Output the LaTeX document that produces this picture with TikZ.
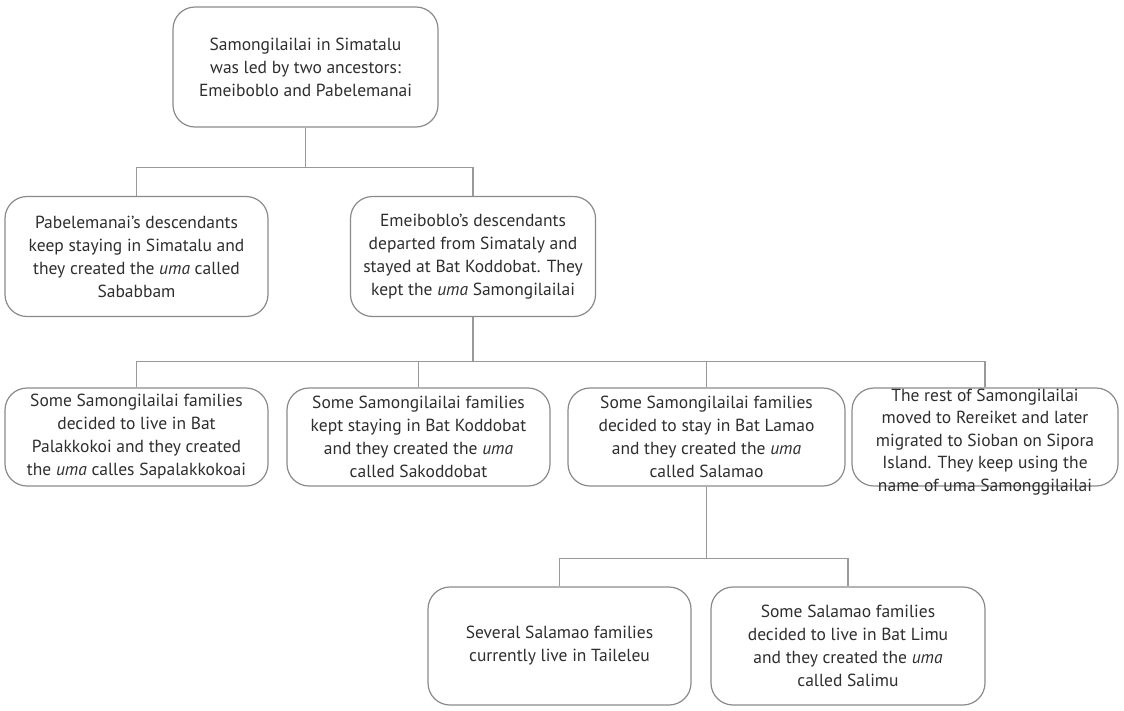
\documentclass[tikz,border=0pt]{standalone}
\usepackage{fontspec}
\setmainfont{PT Sans}
\definecolor{boxline}{HTML}{8A8A8A}
\definecolor{conn}{HTML}{999999}
\definecolor{txt}{HTML}{2E2E2E}
\begin{document}
\begin{tikzpicture}[x=1pt,y=-1pt,
  box/.style={draw=boxline, line width=1.2pt, rounded corners=22pt, align=center,
    text=txt, font=\fontsize{17.5}{23}\selectfont, inner sep=0pt},
  link/.style={draw=conn, line width=1.1pt}]
\useasboundingbox (0,0) rectangle (1124,710);
\node[box, minimum width=265pt, minimum height=120pt] (top) at (305.5,67)
  {Samongilailai in Simatalu\\was led by two ancestors:\\Emeiboblo and Pabelemanai};
\node[box, minimum width=263pt, minimum height=120pt] (a) at (136.5,256.5)
  {Pabelemanai’s descendants\\keep staying in Simatalu and\\they created the \textit{uma} called\\Sababbam};
\node[box, minimum width=245pt, minimum height=120pt] (b) at (473,256.5)
  {Emeiboblo’s descendants\\departed from Simataly and\\stayed at Bat Koddobat. They\\kept the \textit{uma} Samongilailai};
\node[box, minimum width=263pt, minimum height=98pt] (c) at (136.5,437)
  {Some Samongilailai families\\decided to live in Bat\\Palakkokoi and they created\\the \textit{uma} calles Sapalakkokoai};
\node[box, minimum width=263pt, minimum height=98pt] (d) at (418.5,437)
  {Some Samongilailai families\\kept staying in Bat Koddobat\\and they created the \textit{uma}\\called Sakoddobat};
\node[box, minimum width=277pt, minimum height=98pt] (e) at (706.5,437)
  {Some Samongilailai families\\decided to stay in Bat Lamao\\and they created the \textit{uma}\\called Salamao};
\node[box, minimum width=266pt, minimum height=98pt] (f) at (985,437) {};
\node[align=center, text=txt, font=\fontsize{17.5}{22.5}\selectfont, inner sep=0pt] (ft) at (985,442)
  {The rest of Samongilailai\\moved to Rereiket and later\\migrated to Sioban on Sipora\\Island. They keep using the\\name of uma Samonggilailai};
\node[box, minimum width=263pt, minimum height=118pt] (g) at (559.5,646)
  {Several Salamao families\\currently live in Taileleu};
\node[box, minimum width=274pt, minimum height=118pt] (h) at (848,646)
  {Some Salamao families\\decided to live in Bat Limu\\and they created the \textit{uma}\\called Salimu};
\path[link] (top.south) -- ++(0,40) coordinate (j1);
\path[link] (a.north) |- (j1) -| (b.north);
\path[link] (b.south) -- ++(0,44) coordinate (j2);
\path[link] (c.north) |- (j2) -| (f.north);
\path[link] (d.north) -- (d.north |- j2);
\path[link] (e.north) -- (e.north |- j2);
\path[link] (e.south) -- ++(0,72) coordinate (j3);
\path[link] (g.north) |- (j3) -| (h.north);
\end{tikzpicture}
\end{document}
